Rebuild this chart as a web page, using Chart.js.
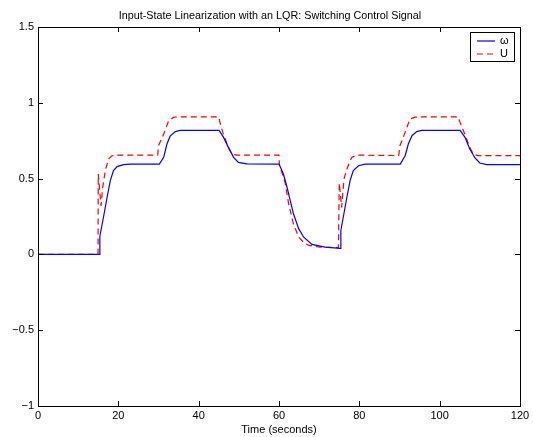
<!DOCTYPE html>
<html>
<head>
<meta charset="utf-8">
<script src="https://cdn.jsdelivr.net/npm/chart.js@4/dist/chart.umd.min.js"></script>
<style>
  html, body { margin: 0; padding: 0; background: #fff; }
  #wrap { width: 533px; height: 437px; }
</style>
</head>
<body>
<div id="wrap"><canvas id="chart"></canvas></div>
<script>
// omega (blue, solid)
const omegaTime = [0, 15.3, 15.4, 16.3, 17.2, 18.0, 18.8, 19.7, 21.3, 23, 30.2, 31.3, 32.1, 32.9, 34.2, 35.4,
  45.1, 46.2, 47.4, 48.7, 49.9, 52, 60.0, 61.1, 62, 62.8, 63.6, 64.9, 66.1, 68.2, 71.5, 75.2, 75.4, 76,
  76.9, 77.7, 78.5, 79.8, 81.4, 90.2, 91.4, 92.2, 93.1, 94.3, 95.5, 105.1, 106.3, 107.5, 108.8, 110, 111.7, 120];
const omegaValues = [0, 0, 0.12, 0.245, 0.377, 0.487, 0.553, 0.579, 0.592, 0.596, 0.596, 0.64, 0.728, 0.78, 0.81, 0.818,
  0.818, 0.772, 0.706, 0.64, 0.607, 0.597, 0.596, 0.53, 0.443, 0.355, 0.268, 0.17, 0.115, 0.066, 0.048, 0.04, 0.158, 0.245,
  0.377, 0.487, 0.553, 0.585, 0.595, 0.596, 0.651, 0.728, 0.783, 0.81, 0.818, 0.818, 0.772, 0.695, 0.636, 0.603, 0.592, 0.592];

// U (red, dashed)
const uTime = [0, 14.95, 15.0, 15.7, 16.1, 16.8, 17.6, 18.4, 19.5, 29.8, 30.0, 31.3, 32.5, 33.8, 35, 45, 45.4, 46.2,
  47.4, 48.3, 49.5, 60, 60.1, 61.5, 62.4, 63.6, 64.9, 66.1, 67.5, 70.2, 74.8, 75.0, 75.6, 76.2, 76.9, 78.1, 79.4,
  89.8, 90.1, 91.4, 92.6, 93.9, 95, 104.6, 105.1, 106.3, 107.5, 108.4, 109.5, 120];
const uValues = [0, 0, 0.53, 0.32, 0.44, 0.56, 0.63, 0.65, 0.655, 0.655, 0.717, 0.794, 0.88, 0.905, 0.907, 0.907, 0.86, 0.79,
  0.706, 0.66, 0.655, 0.655, 0.59, 0.476, 0.333, 0.2, 0.115, 0.08, 0.059, 0.048, 0.045, 0.47, 0.31, 0.5, 0.564, 0.64, 0.655,
  0.652, 0.717, 0.805, 0.893, 0.905, 0.907, 0.907, 0.87, 0.79, 0.706, 0.66, 0.652, 0.652];

const xTicks = [0, 20, 40, 60, 80, 100, 120];
const yTicks = [-1, -0.5, 0, 0.5, 1, 1.5];
const seriesLabels = ['ω', 'U'];
const chartTitle = 'Input-State Linearization with an LQR: Switching Control Signal';

const FONT = 'Liberation Sans, Arial, Helvetica, sans-serif';

function toPoints(xs, ys) {
  return xs.map((x, i) => ({ x: x, y: ys[i] }));
}

// title, box, inward ticks and legend like matlab
const matlabFrame = {
  id: 'matlabFrame',
  afterDatasetsDraw(chart) {
    const { ctx, chartArea: a, scales } = chart;
    ctx.save();

    ctx.fillStyle = '#000';
    ctx.font = '10.8px ' + FONT;
    ctx.textAlign = 'center';
    ctx.textBaseline = 'middle';
    ctx.fillText(chartTitle, 270, 16);
    ctx.textAlign = 'left';

    ctx.strokeStyle = '#000';
    ctx.lineWidth = 1;
    ctx.beginPath();
    xTicks.forEach(t => {
      const px = Math.round(scales.x.getPixelForValue(t)) + 0.5;
      ctx.moveTo(px, a.bottom); ctx.lineTo(px, a.bottom - 5);
      ctx.moveTo(px, a.top); ctx.lineTo(px, a.top + 5);
    });
    yTicks.forEach(t => {
      const py = Math.round(scales.y.getPixelForValue(t)) + 0.5;
      ctx.moveTo(a.left, py); ctx.lineTo(a.left + 5, py);
      ctx.moveTo(a.right, py); ctx.lineTo(a.right - 5, py);
    });
    ctx.stroke();
    ctx.strokeRect(Math.round(a.left) + 0.5, Math.round(a.top) + 0.5,
      Math.round(a.right - a.left), Math.round(a.bottom - a.top));

    // legend
    const lx = 470.5, ly = 32.5, lw = 44, lh = 29;
    ctx.fillStyle = '#fff';
    ctx.fillRect(lx, ly, lw, lh);
    ctx.strokeRect(lx, ly, lw, lh);
    ctx.lineWidth = 1.2;
    ctx.strokeStyle = '#0000ff';
    ctx.beginPath(); ctx.moveTo(477, 41); ctx.lineTo(495, 41); ctx.stroke();
    ctx.strokeStyle = '#ff0000';
    ctx.setLineDash([6, 4]);
    ctx.beginPath(); ctx.moveTo(477, 54); ctx.lineTo(497, 54); ctx.stroke();
    ctx.setLineDash([]);
    ctx.fillStyle = '#000';
    ctx.font = '11px ' + FONT;
    ctx.fillText(seriesLabels[0], 500, 41);
    ctx.fillText(seriesLabels[1], 500, 54);
    ctx.restore();
  }
};

new Chart(document.getElementById('chart'), {
  type: 'line',
  data: {
    datasets: [
      {
        label: seriesLabels[0],
        data: toPoints(omegaTime, omegaValues),
        borderColor: '#0000ff',
        borderWidth: 1.2,
        pointRadius: 0,
        tension: 0,
        fill: false
      },
      {
        label: seriesLabels[1],
        data: toPoints(uTime, uValues),
        borderColor: '#ff0000',
        borderWidth: 1.2,
        borderDash: [6, 4],
        pointRadius: 0,
        tension: 0,
        fill: false
      }
    ]
  },
  options: {
    responsive: true,
    maintainAspectRatio: false,
    animation: false,
    layout: { padding: { left: 0, right: 13, top: 27, bottom: 0 } },
    plugins: {
      legend: { display: false },
      tooltip: { enabled: false },
      title: { display: false }
    },
    scales: {
      x: {
        type: 'linear',
        min: 0,
        max: 120,
        afterFit: s => { s.height = 31; },
        afterBuildTicks: s => { s.ticks = xTicks.map(v => ({ value: v })); },
        grid: { display: false, drawTicks: false, tickLength: 0 },
        border: { display: false },
        ticks: { color: '#000', padding: 3, maxRotation: 0, font: { family: FONT, size: 11 } },
        title: {
          display: true,
          text: 'Time (seconds)',
          color: '#000',
          font: { family: FONT, size: 11 },
          padding: { top: 0, bottom: 0 }
        }
      },
      y: {
        type: 'linear',
        min: -1,
        max: 1.5,
        afterFit: s => { s.width = 38; },
        afterBuildTicks: s => { s.ticks = yTicks.map(v => ({ value: v })); },
        grid: { display: false, drawTicks: false, tickLength: 0 },
        border: { display: false },
        ticks: {
          color: '#000',
          padding: 4,
          font: { family: FONT, size: 11 },
          callback: v => String(v).replace('-', '\u2212')
        }
      }
    }
  },
  plugins: [matlabFrame]
});
</script>
</body>
</html>
